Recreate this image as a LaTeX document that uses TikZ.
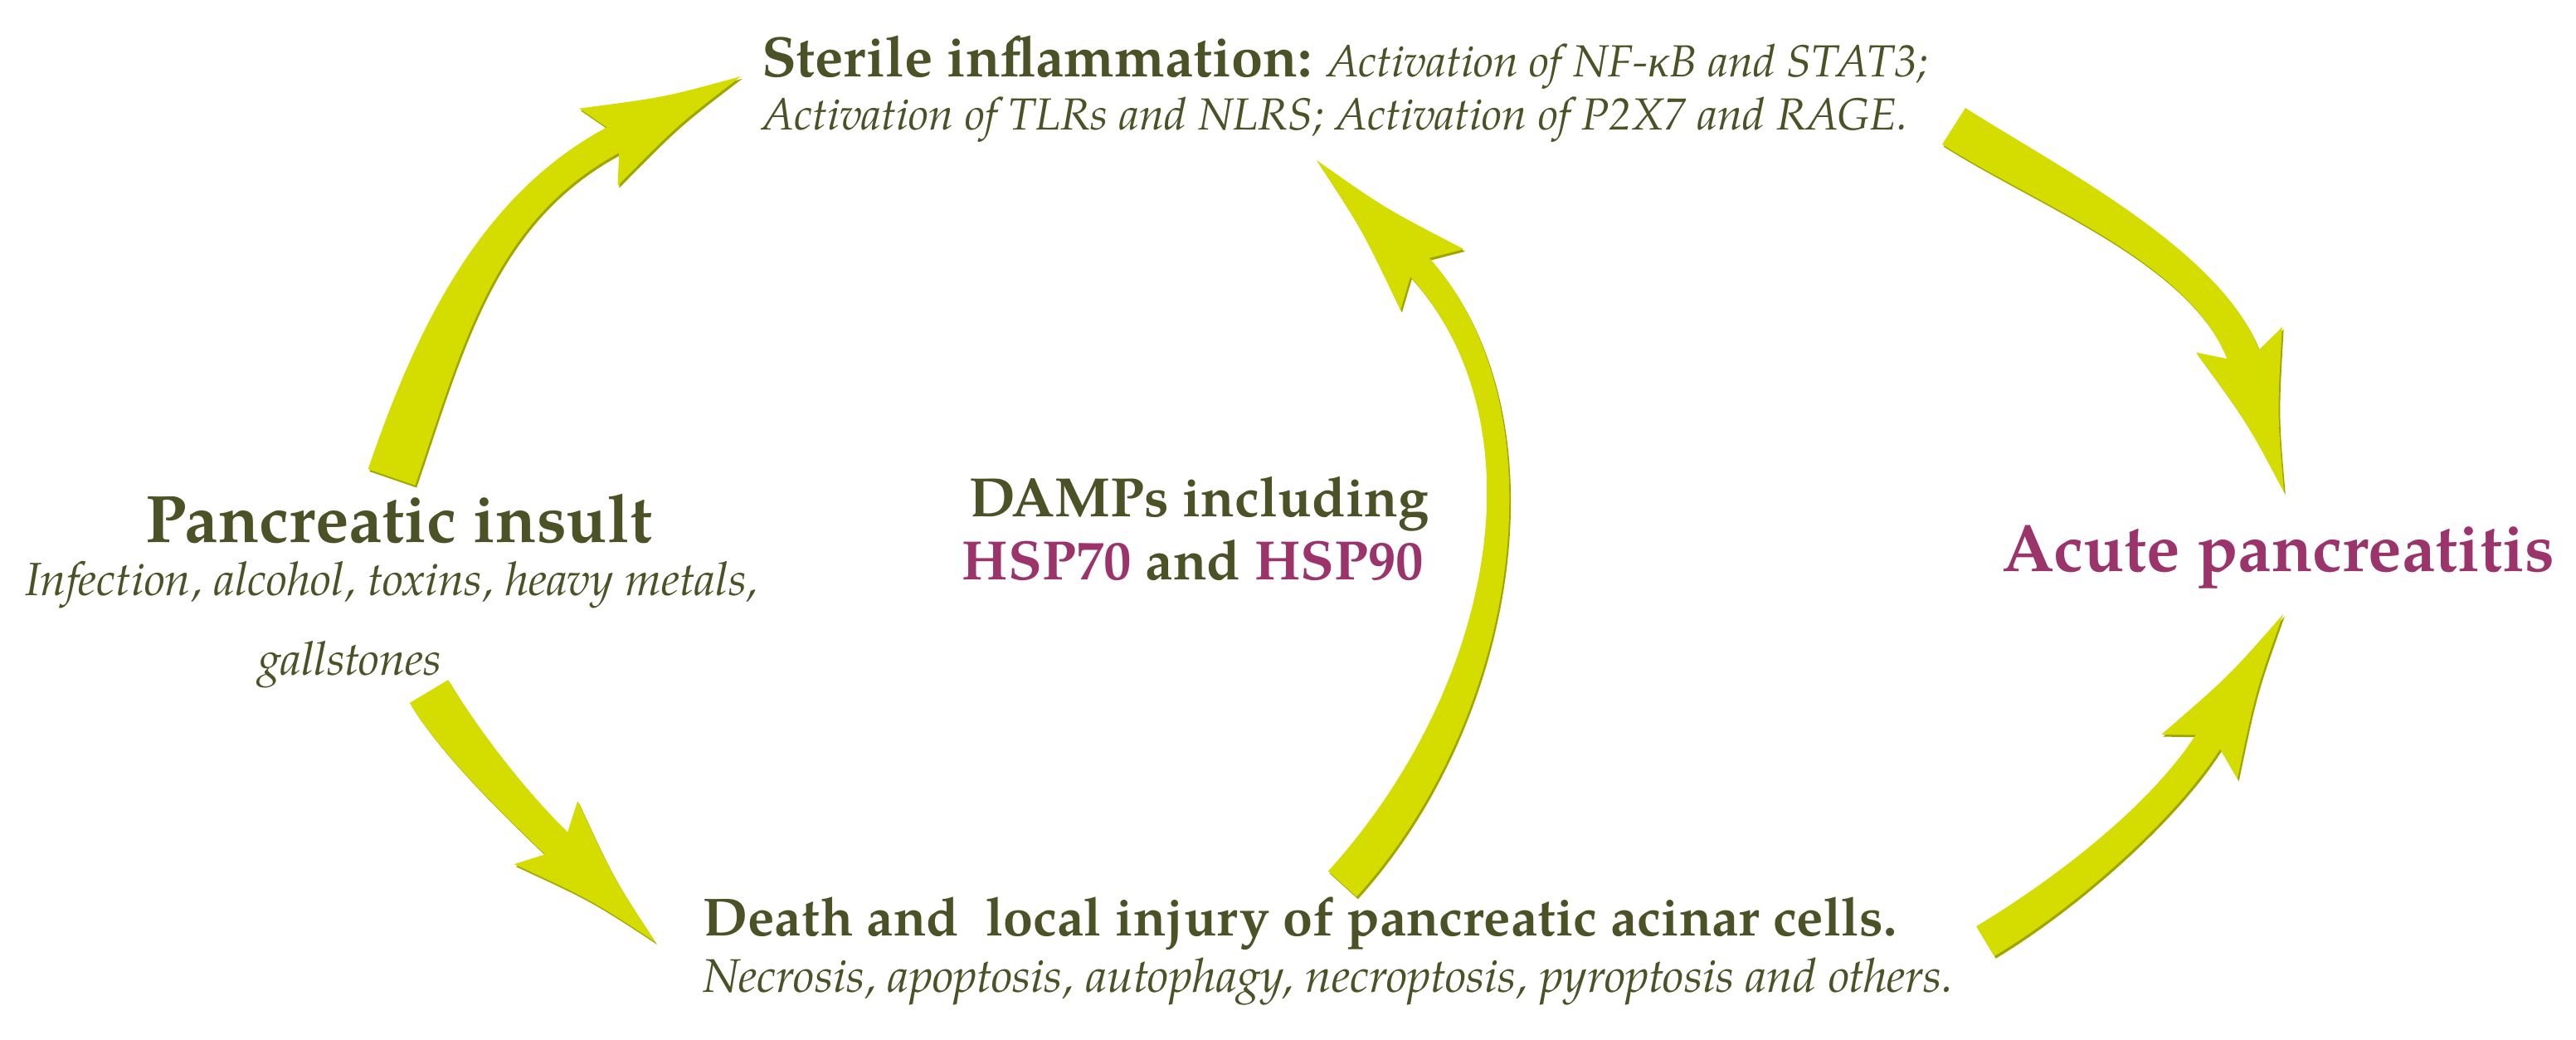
\documentclass[tikz,border=0pt]{standalone}
\usepackage{fontspec}
\setmainfont{TeX Gyre Pagella}
\newfontfamily\grk{Liberation Serif}
\usetikzlibrary{calc}
\definecolor{txtolive}{RGB}{76,82,38}
\definecolor{txtmag}{RGB}{156,52,108}
\definecolor{arrowyel}{RGB}{212,220,0}
\definecolor{arrowdark}{RGB}{160,166,0}
% #1 P0, #2 P1, #3 P2, #4 P3, #5 tip, #6 half width tail, #7 half width end, #8 head half width, #9 fill options
\newcommand{\fatarrowshape}[9]{%
  \coordinate (hbk) at ($(#4)!-0.2!(#5)$);
  \coordinate (hnt) at ($(#4)!-0.02!(#5)$);
  \coordinate (hbl) at ($(hbk)!#8!90:(#5)$);
  \coordinate (hbr) at ($(hbk)!#8!-90:(#5)$);
  \coordinate (hax) at ($(#4)!0.45!(#5)$);
  \coordinate (hml) at ($(#5)!0.5!(hbl)$);
  \coordinate (hmr) at ($(#5)!0.5!(hbr)$);
  \coordinate (hcl) at ($(hml)!0.3!(hax)$);
  \coordinate (hcr) at ($(hmr)!0.3!(hax)$);
  \fill[#9] ($(#1)!#6!90:(#2)$) .. controls ($(#2)!#6!-90:(#1)$) and ($(#3)!#7!90:(#4)$) .. ($(#4)!#7!-90:(#3)$)
     -- ($(#4)!#7!90:(#3)$) .. controls ($(#3)!#7!-90:(#4)$) and ($(#2)!#6!90:(#1)$) .. ($(#1)!#6!-90:(#2)$) -- cycle;
  \fill[#9] (#5) .. controls (hcl) .. (hbl) -- (hnt) -- (hbr) .. controls (hcr) .. (#5) -- cycle;
}
\newcommand{\fatarrow}[8]{%
  \fatarrowshape{#1}{#2}{#3}{#4}{#5}{#6}{#7}{#8}{arrowdark, transform canvas={shift={(0.018,-0.028)}}}
  \fatarrowshape{#1}{#2}{#3}{#4}{#5}{#6}{#7}{#8}{arrowyel}
}
\begin{document}
\begin{tikzpicture}[
  txt/.style={inner sep=0pt, text=txtolive},
  itsmall/.style={txt, font=\fontsize{15.4}{18}\selectfont\itshape},
]
\fill[white] (0,0) rectangle (31.05,-12.53);
\useasboundingbox (0,0) rectangle (31.05,-12.53);

% ---------- texts ----------
\node[txt, anchor=base west, font=\fontsize{15.4}{18}\selectfont] (sterA) at (9.18,-0.93)
  {{\bfseries\fontsize{19.5}{22}\selectfont Sterile inflammation:} \itshape Activation of NF-{\grk κ}B and STAT3;};
\node[itsmall, anchor=base west] (sterB) at (9.18,-1.57)
  {Activation of TLRs and NLRS; Activation of P2X7 and RAGE.};

\node[txt, anchor=base, font=\fontsize{23}{27}\selectfont\bfseries] (insult) at (4.81,-6.53) {Pancreatic insult};
\node[txt, anchor=base, font=\fontsize{16}{19}\selectfont\itshape] (insultA) at (4.72,-7.17) {Infection, alcohol, toxins, heavy metals,};
\node[txt, anchor=base, font=\fontsize{16}{19}\selectfont\itshape] (insultB) at (4.22,-8.13) {gallstones};

\node[txt, anchor=base east, font=\fontsize{19}{22}\selectfont\bfseries] (dampsA) at (17.23,-6.22) {DAMPs including};
\node[txt, anchor=base east, font=\fontsize{19}{22}\selectfont\bfseries] (dampsB) at (17.17,-6.98)
  {\textcolor{txtmag}{HSP70} and \textcolor{txtmag}{HSP90}};

\node[txt, anchor=base east, text=txtmag, font=\fontsize{23}{27}\selectfont\bfseries] (acute) at (30.80,-6.88) {Acute pancreatitis};

\node[txt, anchor=base west, font=\fontsize{18.4}{21}\selectfont\bfseries] (deathA) at (8.47,-11.27)
  {Death and\ \ local injury of pancreatic acinar cells.};
\node[txt, anchor=base west, font=\fontsize{16.2}{19}\selectfont\itshape] (deathB) at (8.47,-11.95)
  {Necrosis, apoptosis, autophagy, necroptosis, pyroptosis and others.};

% ---------- arrow geometry ----------
% A1: insult -> sterile inflammation
\coordinate (a1s) at (4.72,-5.75);  \coordinate (a1c) at (5.31,-4.03);
\coordinate (a1d) at (5.89,-2.43);  \coordinate (a1e) at (7.50,-1.63);
\coordinate (a1t) at (8.93,-0.92);
% A2: sterile inflammation -> acute pancreatitis
\coordinate (a2s) at (23.55,-1.52); \coordinate (a2c) at (24.75,-2.28);
\coordinate (a2d) at (26.72,-3.15); \coordinate (a2e) at (27.08,-4.40);
\coordinate (a2t) at (27.53,-5.93);
% A3: insult -> death
\coordinate (a3s) at (5.17,-8.33);  \coordinate (a3c) at (5.53,-8.93);
\coordinate (a3d) at (6.22,-9.70);  \coordinate (a3e) at (6.80,-10.25);
\coordinate (a3t) at (7.90,-11.35);
% A4: death -> acute pancreatitis
\coordinate (a4s) at (23.93,-11.34); \coordinate (a4c) at (24.96,-10.72);
\coordinate (a4d) at (26.17,-9.70);  \coordinate (a4e) at (26.68,-8.83);
\coordinate (a4t) at (27.52,-7.40);
% A5: death -> sterile inflammation (DAMPs)
\coordinate (a5s) at (16.18,-10.65); \coordinate (a5c) at (18.19,-8.43);
\coordinate (a5d) at (18.76,-4.93);  \coordinate (a5e) at (17.03,-3.13);
\coordinate (a5t) at (15.87,-1.93);

\fatarrow{a1s}{a1c}{a1d}{a1e}{a1t}{0.30cm}{0.17cm}{0.52cm}
\fatarrow{a2s}{a2c}{a2d}{a2e}{a2t}{0.26cm}{0.20cm}{0.54cm}
\fatarrow{a3s}{a3c}{a3d}{a3e}{a3t}{0.27cm}{0.19cm}{0.54cm}
\fatarrow{a4s}{a4c}{a4d}{a4e}{a4t}{0.21cm}{0.17cm}{0.53cm}
\fatarrow{a5s}{a5c}{a5d}{a5e}{a5t}{0.23cm}{0.16cm}{0.53cm}
\end{tikzpicture}
\end{document}
